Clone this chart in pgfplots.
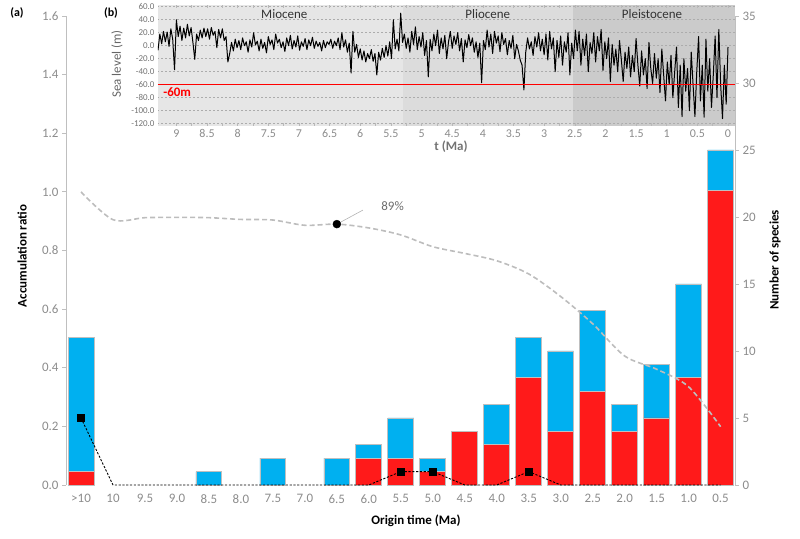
\documentclass[border=0pt]{standalone}
\usepackage{pgfplots}
\pgfplotsset{compat=1.18}
\usepackage{pgfplotstable}
\usepackage{fontspec}
\setmainfont{Carlito}
\definecolor{barblue}{HTML}{00B0F0}
\definecolor{barred}{HTML}{FF1A1A}
\definecolor{axgray}{HTML}{BFBFBF}
\definecolor{tickgray}{HTML}{8C8C8C}
\definecolor{mio}{HTML}{E6E6E6}
\definecolor{plio}{HTML}{DCDCDC}
\definecolor{pleis}{HTML}{CBCBCB}
\definecolor{curvegray}{HTML}{BDBDBD}
\newcommand\fsz[1]{\fontsize{#1}{#1}\selectfont}

\pgfplotstableread{
x y
9.30 -7
9.27 18
9.24 3
9.21 22
9.18 6
9.15 21
9.12 -1
9.09 26
9.06 10
9.03 -37
9.00 40
8.97 14
8.94 30
8.91 8
8.88 27
8.85 12
8.82 33
8.79 15
8.76 28
8.73 5
8.70 -21
8.67 18
8.64 8
8.61 24
8.58 12
8.55 27
8.52 14
8.49 26
8.46 10
8.43 28
8.40 16
8.37 22
8.34 -3
8.31 25
8.28 12
8.25 26
8.22 8
8.19 14
8.16 -25
8.13 -12
8.10 5
8.07 -8
8.04 10
8.01 -3
7.98 8
7.95 -6
7.92 12
7.89 0
7.86 6
7.83 -10
7.80 9
7.77 -2
7.74 20
7.71 1
7.68 7
7.65 -8
7.62 10
7.59 -4
7.56 5
7.53 -11
7.50 14
7.47 2
7.44 9
7.41 -6
7.38 18
7.35 4
7.32 10
7.29 -3
7.26 6
7.23 -9
7.20 12
7.17 0
7.14 16
7.11 -5
7.08 8
7.05 -2
7.02 15
6.99 -7
6.96 6
6.93 -1
6.90 11
6.87 -6
6.84 9
6.81 0
6.78 13
6.75 -4
6.72 7
6.69 -1
6.66 5
6.63 -8
6.60 8
6.57 -3
6.54 6
6.51 2
6.48 10
6.45 -4
6.42 7
6.39 0
6.36 12
6.33 -6
6.30 20
6.27 -2
6.24 9
6.21 -10
6.18 4
6.15 -42
6.12 22
6.09 -10
6.06 2
6.03 -18
6.00 -5
5.97 -22
5.94 -8
5.91 -25
5.88 -12
5.85 -20
5.82 -6
5.79 -24
5.76 -12
5.73 -45
5.70 -10
5.67 -22
5.64 -4
5.61 -18
5.58 0
5.55 -16
5.52 6
5.49 -20
5.46 40
5.43 -5
5.40 10
5.37 -8
5.34 50
5.31 5
5.28 18
5.25 -4
5.22 12
5.19 -10
5.16 22
5.13 2
5.10 29
5.07 -6
5.04 14
5.01 -2
4.98 20
4.95 -15
4.92 8
4.89 -48
4.86 10
4.83 -8
4.80 18
4.77 0
4.74 24
4.71 -12
4.68 12
4.65 -5
4.62 16
4.59 -20
4.56 6
4.53 22
4.50 -4
4.47 15
4.44 2
4.41 20
4.38 -8
4.35 11
4.32 -25
4.29 9
4.26 -3
4.23 17
4.20 0
4.17 12
4.14 -10
4.11 6
4.08 -18
4.05 4
4.02 -57
3.99 8
3.96 -6
3.93 24
3.90 -2
3.87 18
3.84 -12
3.81 22
3.78 4
3.75 15
3.72 -9
3.69 20
3.66 2
3.63 11
3.60 -14
3.57 8
3.54 -4
3.51 16
3.48 -20
3.45 2
3.42 -8
3.39 -22
3.36 -30
3.33 -68
3.30 -10
3.27 12
3.24 -5
3.21 6
3.18 -15
3.15 14
3.12 -2
3.09 20
3.06 -8
3.03 10
3.00 -14
2.97 18
2.94 -22
2.91 22
2.88 -5
2.85 12
2.82 -40
2.79 8
2.76 -18
2.73 15
2.70 -30
2.67 6
2.64 -10
2.61 20
2.58 -45
2.55 4
2.52 -20
2.49 24
2.46 -8
2.43 22
2.40 -30
2.37 10
2.34 -15
2.31 18
2.28 -40
2.25 5
2.22 -12
2.19 20
2.16 -25
2.13 14
2.10 -8
2.07 25
2.04 -38
2.01 6
1.98 -20
1.95 12
1.92 -55
1.89 2
1.86 -30
1.83 -5
1.80 -40
1.77 8
1.74 -22
1.71 -55
1.68 -10
1.65 -35
1.62 -2
1.59 -48
1.56 -15
1.53 -40
1.50 11
1.47 -30
1.44 -62
1.41 -8
1.38 -45
1.35 -20
1.32 -66
1.29 5
1.26 -35
1.23 -58
1.20 -12
1.17 -50
1.14 -20
1.11 -72
1.08 -5
1.05 -45
1.02 -85
0.99 -25
0.96 -60
0.93 -15
0.90 -80
0.87 -40
0.84 -2
0.81 -95
0.78 -30
0.75 -109
0.72 -20
0.69 -70
0.66 -35
0.63 -100
0.60 -10
0.57 -60
0.54 -109
0.51 -40
0.48 14
0.45 -85
0.42 -30
0.39 -110
0.36 10
0.33 -70
0.30 -20
0.27 -95
0.24 -45
0.21 15
0.18 -80
0.15 25
0.12 -60
0.09 -112
0.06 -30
0.03 -90
0.00 -2
}\sealevel

\begin{document}
\begin{tikzpicture}
\useasboundingbox (0,0) rectangle (800bp,539bp);

% ---- species axis (right), bars and black dashed line
\begin{axis}[
  at={(66bp,54bp)}, anchor=south west, scale only axis,
  width=669bp, height=469bp,
  xmin=-0.47, xmax=20.45, ymin=0, ymax=35,
  axis x line=none, axis y line*=right,
  axis line style={axgray, line width=0.8bp},
  ytick={0,5,...,35},
  tick align=outside, major tick length=4bp,
  ytick style={axgray, line width=0.8bp},
  yticklabel style={font=\fsz{13}, text=tickgray},
  /pgf/number format/assume math mode=true,
  bar width=0.81, clip=false]
\addplot[ybar, bar shift=0pt, fill=barblue, draw=axgray, line width=0.8bp] coordinates {
 (0,11) (4,1) (6,2) (8,2) (9,3) (10,5) (11,2) (12,4) (13,6) (14,11)
 (15,10) (16,13) (17,6) (18,9) (19,15) (20,25)};
\addplot[ybar, bar shift=0pt, fill=barred, draw=axgray, line width=0.8bp] coordinates {
 (0,1) (9,2) (10,2) (11,1) (12,4) (13,3) (14,8) (15,4) (16,7) (17,4)
 (18,5) (19,8) (20,22)};
\addplot[sharp plot, black, line width=0.9bp, dash pattern=on 2.2bp off 1.6bp, no marks] coordinates {
 (0,5) (1,0) (2,0) (3,0) (4,0) (5,0) (6,0) (7,0) (8,0) (9,0) (10,1)
 (11,1) (12,0) (13,0) (14,1) (15,0) (16,0) (17,0) (18,0) (19,0) (20,0)};
\addplot[only marks, mark=square*, mark size=3.6bp, black] coordinates {
 (0,5) (10,1) (11,1) (14,1)};
\end{axis}

% ---- ratio axis (left)
\begin{axis}[
  at={(66bp,54bp)}, anchor=south west, scale only axis,
  width=669bp, height=469bp,
  xmin=-0.47, xmax=20.45, ymin=0, ymax=1.6,
  axis y line*=left, axis x line*=bottom,
  axis line style={axgray, line width=0.8bp},
  x axis line style={draw=none},
  xtick={0,1,...,20},
  xticklabels={>10,10,9.5,9.0,8.5,8.0,7.5,7.0,6.5,6.0,5.5,5.0,4.5,4.0,3.5,3.0,2.5,2.0,1.5,1.0,0.5},
  xtick style={draw=none},
  xticklabel style={font=\fsz{13}, text=tickgray, yshift=-2bp},
  ytick={0,0.2,0.4,0.6,0.8,1.0,1.2,1.4,1.6},
  tick align=outside, major tick length=4bp,
  ytick style={axgray, line width=0.8bp},
  yticklabel style={font=\fsz{13}, text=tickgray,
    /pgf/number format/.cd, fixed, fixed zerofill, precision=1},
  /pgf/number format/assume math mode=true,
  clip=false]
\addplot[smooth, curvegray, line width=1.6bp, dash pattern=on 5bp off 3bp] coordinates {
 (0,1.00) (1,0.905) (2,0.912) (3,0.913) (4,0.912) (5,0.906) (6,0.904)
 (7,0.886) (8,0.89) (9,0.877) (10,0.853) (11,0.813) (12,0.79) (13,0.765)
 (14,0.72) (15,0.643) (16,0.55) (17,0.44) (18,0.395) (19,0.335) (20,0.199)};
\draw[gray!60, line width=0.6bp] (axis cs:8,0.89) ++(2bp,1bp) -- ++(24bp,13bp);
\addplot[only marks, mark=*, mark size=4bp, black] coordinates {(8,0.89)};
\node[anchor=west, font=\fsz{13}, text=gray!85!black, xshift=41bp, yshift=18bp] at (axis cs:8,0.89) {89\%};
\end{axis}

% ---- inset backgrounds (geological epochs)
\fill[mio] (158bp,413bp) rectangle (403bp,533.6bp);
\fill[plio] (403bp,413bp) rectangle (573bp,533.6bp);
\fill[pleis] (573bp,413bp) rectangle (735bp,533.6bp);

% ---- inset (b): sea level
\begin{axis}[
  at={(158bp,413bp)}, anchor=south west, scale only axis,
  width=577bp, height=120.6bp,
  xmin=-0.114, xmax=9.3, x dir=reverse, ymin=-123.5, ymax=62,
  axis line style={draw=none},
  ytick style={draw=none},
  xtick style={draw=gray!55, line width=0.5bp},
  tick align=inside, major tick length=2.5bp, minor tick length=2.5bp,
  minor x tick num=1,
  ytick={-120,-100,...,60},
  ymajorgrids, grid style={dash pattern=on 2bp off 2bp, gray!65, line width=0.6bp},
  xtick={0,0.5,...,9},
  yticklabel style={font=\fsz{9}, text=gray!90!black,
    /pgf/number format/.cd, fixed, fixed zerofill, precision=1},
  xticklabel style={font=\fsz{12}, text=tickgray},
  /pgf/number format/assume math mode=true]
\addplot[black, line width=1bp, line join=round, no marks] table {\sealevel};
\addplot[red, line width=1.5bp, no marks] coordinates {(9.3,-60) (-0.114,-60)};
\node[anchor=west, font=\bfseries\fsz{13}, text=red] at (axis cs:9.27,-71) {-60m};
\node[font=\fsz{13}, text=black!80] at (axis cs:7.24,48.8) {Miocene};
\node[font=\fsz{13}, text=black!80] at (axis cs:3.92,48.8) {Pliocene};
\node[font=\fsz{13}, text=black!80] at (axis cs:1.24,48.8) {Pleistocene};
\end{axis}

% ---- labels
\node[font=\bfseries\fsz{12}] at (17bp,526bp) {(a)};
\node[font=\bfseries\fsz{12}] at (111bp,526bp) {(b)};
\node[font=\fsz{13}, text=gray!80!black, rotate=90] at (117bp,475bp) {Sea level (m)};
\node[font=\bfseries\fsz{13}, text=gray!90!black] at (451bp,392bp) {t (Ma)};
\node[font=\bfseries\fsz{13}, rotate=90] at (22bp,283bp) {Accumulation ratio};
\node[font=\bfseries\fsz{13}, rotate=90] at (775bp,279bp) {Number of species};
\node[font=\bfseries\fsz{13}] at (416bp,18bp) {Origin time (Ma)};
\end{tikzpicture}
\end{document}
